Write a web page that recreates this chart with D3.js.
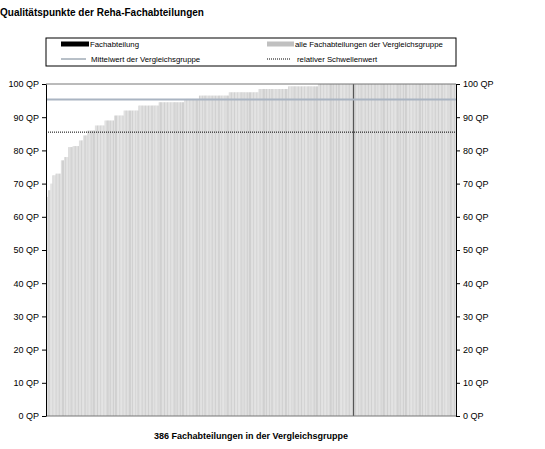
<!DOCTYPE html>
<html><head><meta charset="utf-8">
<script src="https://cdn.jsdelivr.net/npm/d3@7"></script>
<style>body{margin:0;background:#fff}text{font-family:"Liberation Sans",Arial,sans-serif}</style>
</head><body><svg id="c" width="545" height="449"></svg>
<script>
// sorted quality points as runs [value, number of departments]
const runs = [[57,1],[66,1],[68,2],[70,2],[72.5,3],[73,5],[77,3],[78,4],[81,4],[81.3,6],[83,4],[84.5,4],
  [86,7],[87.5,9],[89,9],[90.5,9],[92,14],[93.5,19],[94.5,24],[95.5,14],[96.5,28],[97.5,28],[98.5,28],[99.3,28],[100,130]];
const values = runs.flatMap(([v, n]) => Array(n).fill(v));
const ownIndex = 289, ownValue = 100;
const meanValue = 95.3, thresholdValue = 85.5;
const yTicks = [0,10,20,30,40,50,60,70,80,90,100];

const svg = d3.select('#c');
const x = d3.scaleBand().domain(d3.range(values.length)).range([46, 456]).padding(0);
const y = d3.scaleLinear().domain([0, 100]).range([416, 84]);

svg.append('text').attr('x', 0).attr('y', 16).attr('font-size', 10).attr('font-weight', 'bold').text('Qualitätspunkte der Reha-Fachabteilungen');

// legend
const lg = svg.append('g');
lg.append('rect').attr('x', 46).attr('y', 38).attr('width', 410).attr('height', 28).attr('fill', 'none').attr('stroke', '#000');
lg.append('rect').attr('x', 61).attr('y', 41.5).attr('width', 28).attr('height', 5).attr('fill', '#000');
lg.append('text').attr('x', 90).attr('y', 47).attr('font-size', 7.8).text('Fachabteilung');
lg.append('rect').attr('x', 267).attr('y', 41.5).attr('width', 27).attr('height', 5).attr('fill', '#c0c0c0');
lg.append('text').attr('x', 295).attr('y', 47).attr('font-size', 7.8).text('alle Fachabteilungen der Vergleichsgruppe');
lg.append('line').attr('x1', 61).attr('x2', 86).attr('y1', 59).attr('y2', 59).attr('stroke', '#708090');
lg.append('text').attr('x', 91).attr('y', 62).attr('font-size', 7.8).text('Mittelwert der Vergleichsgruppe');
lg.append('line').attr('x1', 267).attr('x2', 291).attr('y1', 59).attr('y2', 59).attr('stroke', '#000').attr('stroke-dasharray', '1,1');
lg.append('text').attr('x', 297).attr('y', 62).attr('font-size', 7.8).text('relativer Schwellenwert');

// bars
svg.append('g').selectAll('rect').data(values).join('rect')
  .attr('x', (d, i) => x(i)).attr('width', x.bandwidth() + 0.3)
  .attr('y', d => y(d)).attr('height', d => y(0) - y(d))
  .attr('fill', (d, i) => (i % 3 === 0 || i % 7 === 2) ? '#d0d0d0' : '#e0e0e0');

svg.append('rect').attr('x', x(ownIndex)).attr('width', 1.2).attr('y', y(ownValue)).attr('height', y(0) - y(ownValue)).attr('fill', '#555');

svg.append('line').attr('x1', 46).attr('x2', 456).attr('y1', y(100)).attr('y2', y(100)).attr('stroke', '#777');
svg.append('line').attr('x1', 46).attr('x2', 456).attr('y1', y(meanValue)).attr('y2', y(meanValue)).attr('stroke', '#a9b4c2').attr('stroke-width', 2);
svg.append('line').attr('x1', 46).attr('x2', 456).attr('y1', y(thresholdValue)).attr('y2', y(thresholdValue)).attr('stroke', '#000').attr('stroke-dasharray', '1,1');
svg.append('line').attr('x1', 46).attr('x2', 456).attr('y1', y(0)).attr('y2', y(0)).attr('stroke', '#777');

const fmt = d => d + ' QP';
const left = svg.append('g').attr('transform', 'translate(46,0)').call(d3.axisLeft(y).tickValues(yTicks).tickFormat(fmt).tickSize(4).tickSizeOuter(0));
const right = svg.append('g').attr('transform', 'translate(456,0)').call(d3.axisRight(y).tickValues(yTicks).tickFormat(fmt).tickSize(4).tickSizeOuter(0));
[left, right].forEach(g => { g.selectAll('text').attr('font-size', 9).attr('fill', '#000').style('font-family', '"Liberation Sans",Arial,sans-serif'); g.selectAll('line,path').attr('stroke', '#000'); });
left.selectAll('text').attr('x', -7);
right.selectAll('text').attr('x', 7);

svg.append('text').attr('x', 251).attr('y', 439).attr('text-anchor', 'middle').attr('font-size', 9).attr('font-weight', 'bold').text('386 Fachabteilungen in der Vergleichsgruppe');
</script></body></html>
